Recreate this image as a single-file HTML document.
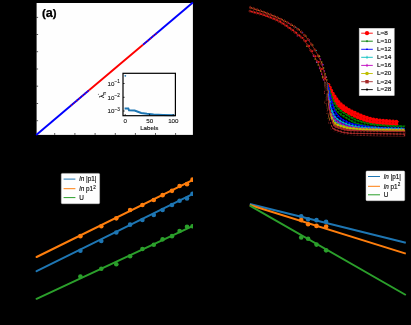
<!DOCTYPE html>
<html><head><meta charset="utf-8"><style>
html,body{margin:0;padding:0;background:#000;width:411px;height:325px;overflow:hidden}
svg{display:block;will-change:transform}
</style></head><body>
<svg width="411" height="325" viewBox="0 0 411 325">
<rect width="411" height="325" fill="#000"/>
<g style="opacity:0.999">
<rect x="36.6" y="3.0" width="156.30" height="131.90" fill="#fff"/>
<line x1="36.2" y1="17.4" x2="38.1" y2="17.4" stroke="#333" stroke-width="0.8"/>
<line x1="36.2" y1="34.5" x2="38.1" y2="34.5" stroke="#333" stroke-width="0.8"/>
<line x1="36.2" y1="51.7" x2="38.1" y2="51.7" stroke="#333" stroke-width="0.8"/>
<line x1="36.2" y1="69.0" x2="38.1" y2="69.0" stroke="#333" stroke-width="0.8"/>
<line x1="36.2" y1="86.2" x2="38.1" y2="86.2" stroke="#333" stroke-width="0.8"/>
<line x1="36.2" y1="103.5" x2="38.1" y2="103.5" stroke="#333" stroke-width="0.8"/>
<line x1="36.2" y1="120.7" x2="38.1" y2="120.7" stroke="#333" stroke-width="0.8"/>
<line x1="54.7" y1="134.9" x2="54.7" y2="133.00" stroke="#333" stroke-width="0.8"/>
<line x1="74.9" y1="134.9" x2="74.9" y2="133.00" stroke="#333" stroke-width="0.8"/>
<line x1="95.1" y1="134.9" x2="95.1" y2="133.00" stroke="#333" stroke-width="0.8"/>
<line x1="115.3" y1="134.9" x2="115.3" y2="133.00" stroke="#333" stroke-width="0.8"/>
<line x1="135.4" y1="134.9" x2="135.4" y2="133.00" stroke="#333" stroke-width="0.8"/>
<line x1="155.5" y1="134.9" x2="155.5" y2="133.00" stroke="#333" stroke-width="0.8"/>
<line x1="175.6" y1="134.9" x2="175.6" y2="133.00" stroke="#333" stroke-width="0.8"/>
<line x1="36.2" y1="134.9" x2="89" y2="90.32" stroke="#0000ff" stroke-width="1.9"/>
<line x1="143" y1="44.73" x2="192.9" y2="2.6" stroke="#0000ff" stroke-width="1.9"/>
<line x1="89" y1="90.32" x2="143" y2="44.73" stroke="#ff0000" stroke-width="1.9"/>
<line x1="71" y1="105.52" x2="89" y2="90.32" stroke="#ff0000" stroke-width="1.7" stroke-dasharray="1.0 2.6" opacity="0.85"/>
<line x1="143" y1="44.73" x2="158" y2="32.07" stroke="#ff0000" stroke-width="1.7" stroke-dasharray="1.0 2.6" stroke-dashoffset="1.5" opacity="0.85"/>
<text x="42.0" y="17.0" font-family="Liberation Sans, sans-serif" font-weight="bold" font-size="11.4" fill="#000" stroke="#000" stroke-width="0.25">(<tspan font-size="12.6">a</tspan>)</text>
<circle cx="125.3" cy="75.8" r="0.9" fill="#1f77b4"/>
<path d="M124.60,108.40 L128.30,108.50 L129.00,110.30 L134.60,110.50 L141.20,113.00 L147.00,113.80 L153.60,114.40 L163.00,114.90 L174.50,115.30" fill="none" stroke="#1f77b4" stroke-width="2.0"/>
<rect x="123.0" y="73.3" width="52.40" height="42.40" fill="none" stroke="#000" stroke-width="1.2"/>
<line x1="123.0" y1="83.5" x2="124.6" y2="83.5" stroke="#000" stroke-width="0.8"/>
<line x1="123.0" y1="97.3" x2="124.6" y2="97.3" stroke="#000" stroke-width="0.8"/>
<line x1="123.0" y1="111.0" x2="124.6" y2="111.0" stroke="#000" stroke-width="0.8"/>
<line x1="125.2" y1="115.7" x2="125.2" y2="114.10000000000001" stroke="#000" stroke-width="0.8"/>
<line x1="149.6" y1="115.7" x2="149.6" y2="114.10000000000001" stroke="#000" stroke-width="0.8"/>
<line x1="173.2" y1="115.7" x2="173.2" y2="114.10000000000001" stroke="#000" stroke-width="0.8"/>
<text x="107.6" y="85.8" font-family="Liberation Sans, sans-serif" font-size="6.2" fill="#111" stroke="#111" stroke-width="0.1">10<tspan dy="-2.4" font-size="4.6">&#8722;1</tspan></text>
<text x="107.6" y="99.6" font-family="Liberation Sans, sans-serif" font-size="6.2" fill="#111" stroke="#111" stroke-width="0.1">10<tspan dy="-2.4" font-size="4.6">&#8722;2</tspan></text>
<text x="107.6" y="113.2" font-family="Liberation Sans, sans-serif" font-size="6.2" fill="#111" stroke="#111" stroke-width="0.1">10<tspan dy="-2.4" font-size="4.6">&#8722;3</tspan></text>
<text x="125.2" y="122.6" font-family="Liberation Sans, sans-serif" font-size="6.2" fill="#111" stroke="#111" stroke-width="0.1" text-anchor="middle">0</text>
<text x="149.8" y="122.6" font-family="Liberation Sans, sans-serif" font-size="6.2" fill="#111" stroke="#111" stroke-width="0.1" text-anchor="middle">50</text>
<text x="173.3" y="122.6" font-family="Liberation Sans, sans-serif" font-size="6.2" fill="#111" stroke="#111" stroke-width="0.1" text-anchor="middle">100</text>
<text x="149.3" y="130.3" font-family="Liberation Sans, sans-serif" font-size="6.2" fill="#111" stroke="#111" stroke-width="0.12" text-anchor="middle">Labels</text>
<text transform="translate(104.0,95.0) rotate(-90)" font-family="Liberation Sans, sans-serif" font-size="7" fill="#111" stroke="#111" stroke-width="0.1" text-anchor="middle">&#955;<tspan font-size="4.6" dy="1.6">n</tspan></text>
<circle cx="98.4" cy="94.3" r="0.55" fill="#555"/>
<path d="M250.00,7.40 C252.10,8.12 258.07,10.02 262.60,11.70 C267.13,13.38 272.48,15.35 277.20,17.50 C281.92,19.65 287.23,22.48 290.90,24.60 C294.57,26.72 296.73,28.20 299.20,30.20 C301.67,32.20 303.70,34.30 305.70,36.60 C307.70,38.90 309.28,41.12 311.20,44.00 C313.12,46.88 315.57,50.90 317.20,53.90 C318.83,56.90 319.95,59.32 321.00,62.00 C322.05,64.68 322.80,67.50 323.50,70.00 C324.20,72.50 324.65,75.00 325.20,77.00 C325.75,79.00 326.53,81.17 326.80,82.00" fill="none" stroke="#b02a1c" stroke-width="0.8"/>
<path d="M249.60,11.00 C251.77,11.60 258.00,13.03 262.60,14.60 C267.20,16.17 272.48,17.97 277.20,20.40 C281.92,22.83 287.38,26.73 290.90,29.20 C294.42,31.67 296.13,33.42 298.30,35.20 C300.47,36.98 301.97,37.57 303.90,39.90 C305.83,42.23 308.13,46.42 309.90,49.20 C311.67,51.98 313.07,54.13 314.50,56.60 C315.93,59.07 317.37,61.60 318.50,64.00 C319.63,66.40 320.52,68.83 321.30,71.00 C322.08,73.17 322.58,75.08 323.20,77.00 C323.82,78.92 324.70,81.58 325.00,82.50" fill="none" stroke="#b82018" stroke-width="0.8"/>
<path d="M249.00,7.50 L250.30,6.30 L251.60,7.50 L250.30,8.70Z" fill="none" stroke="#b83020" stroke-width="0.7"/>
<circle cx="251.80" cy="8.00" r="0.5" fill="#d8a020"/>
<path d="M252.40,8.63 L253.70,7.43 L255.00,8.63 L253.70,9.83Z" fill="none" stroke="#b83020" stroke-width="0.7"/>
<circle cx="255.20" cy="9.13" r="0.5" fill="#d8a020"/>
<path d="M255.80,9.76 L257.10,8.56 L258.40,9.76 L257.10,10.96Z" fill="none" stroke="#b83020" stroke-width="0.7"/>
<circle cx="258.60" cy="10.26" r="0.5" fill="#d8a020"/>
<path d="M259.20,10.94 L260.50,9.74 L261.80,10.94 L260.50,12.14Z" fill="none" stroke="#b83020" stroke-width="0.7"/>
<circle cx="262.00" cy="11.44" r="0.5" fill="#d8a020"/>
<path d="M262.60,12.18 L263.90,10.98 L265.20,12.18 L263.90,13.38Z" fill="none" stroke="#b83020" stroke-width="0.7"/>
<circle cx="265.40" cy="12.68" r="0.5" fill="#d8a020"/>
<path d="M266.00,13.45 L267.30,12.25 L268.60,13.45 L267.30,14.65Z" fill="none" stroke="#b83020" stroke-width="0.7"/>
<circle cx="268.80" cy="13.95" r="0.5" fill="#d8a020"/>
<path d="M269.40,14.77 L270.70,13.57 L272.00,14.77 L270.70,15.97Z" fill="none" stroke="#b83020" stroke-width="0.7"/>
<circle cx="272.20" cy="15.27" r="0.5" fill="#d8a020"/>
<path d="M272.80,16.15 L274.10,14.95 L275.40,16.15 L274.10,17.35Z" fill="none" stroke="#b83020" stroke-width="0.7"/>
<circle cx="275.60" cy="16.65" r="0.5" fill="#d8a020"/>
<path d="M276.20,17.64 L277.50,16.44 L278.80,17.64 L277.50,18.84Z" fill="none" stroke="#b83020" stroke-width="0.7"/>
<circle cx="279.00" cy="18.14" r="0.5" fill="#d8a020"/>
<path d="M279.60,19.26 L280.90,18.06 L282.20,19.26 L280.90,20.46Z" fill="none" stroke="#b83020" stroke-width="0.7"/>
<circle cx="282.40" cy="19.76" r="0.5" fill="#d8a020"/>
<path d="M283.00,20.99 L284.30,19.79 L285.60,20.99 L284.30,22.19Z" fill="none" stroke="#b83020" stroke-width="0.7"/>
<circle cx="285.80" cy="21.49" r="0.5" fill="#d8a020"/>
<path d="M286.40,22.80 L287.70,21.60 L289.00,22.80 L287.70,24.00Z" fill="none" stroke="#b83020" stroke-width="0.7"/>
<circle cx="289.20" cy="23.30" r="0.5" fill="#c020c0"/>
<path d="M289.80,24.72 L291.10,23.52 L292.40,24.72 L291.10,25.92Z" fill="none" stroke="#b83020" stroke-width="0.7"/>
<circle cx="292.60" cy="25.22" r="0.5" fill="#d8c020"/>
<path d="M293.20,26.78 L294.50,25.58 L295.80,26.78 L294.50,27.98Z" fill="none" stroke="#b83020" stroke-width="0.7"/>
<circle cx="296.00" cy="27.28" r="0.5" fill="#20c0c0"/>
<path d="M296.60,29.17 L297.90,27.97 L299.20,29.17 L297.90,30.37Z" fill="none" stroke="#b83020" stroke-width="0.7"/>
<circle cx="299.40" cy="29.67" r="0.5" fill="#d8c020"/>
<path d="M300.00,32.02 L301.30,30.82 L302.60,32.02 L301.30,33.22Z" fill="none" stroke="#b83020" stroke-width="0.7"/>
<circle cx="302.80" cy="32.52" r="0.5" fill="#3040ff"/>
<path d="M303.40,35.47 L304.70,34.27 L306.00,35.47 L304.70,36.67Z" fill="none" stroke="#b83020" stroke-width="0.7"/>
<circle cx="306.20" cy="35.97" r="0.5" fill="#d8c020"/>
<path d="M306.80,39.57 L308.10,38.37 L309.40,39.57 L308.10,40.77Z" fill="none" stroke="#b83020" stroke-width="0.7"/>
<circle cx="309.60" cy="40.07" r="0.5" fill="#c020c0"/>
<path d="M310.20,44.45 L311.50,43.25 L312.80,44.45 L311.50,45.65Z" fill="none" stroke="#b83020" stroke-width="0.7"/>
<circle cx="313.00" cy="44.95" r="0.5" fill="#d8c020"/>
<path d="M313.60,49.89 L314.90,48.69 L316.20,49.89 L314.90,51.09Z" fill="none" stroke="#b83020" stroke-width="0.7"/>
<circle cx="316.40" cy="50.39" r="0.5" fill="#20c0c0"/>
<path d="M317.00,55.99 L318.30,54.79 L319.60,55.99 L318.30,57.19Z" fill="none" stroke="#b83020" stroke-width="0.7"/>
<circle cx="319.80" cy="56.49" r="0.5" fill="#d8c020"/>
<path d="M320.40,63.93 L321.70,62.73 L323.00,63.93 L321.70,65.13Z" fill="none" stroke="#b83020" stroke-width="0.7"/>
<circle cx="323.20" cy="64.43" r="0.5" fill="#3040ff"/>
<path d="M323.80,76.63 L325.10,75.43 L326.40,76.63 L325.10,77.83Z" fill="none" stroke="#b83020" stroke-width="0.7"/>
<circle cx="326.60" cy="77.13" r="0.5" fill="#d8c020"/>
<path d="M248.70,11.11 L250.00,9.91 L251.30,11.11 L250.00,12.31Z" fill="none" stroke="#b02a20" stroke-width="0.7"/>
<circle cx="251.60" cy="11.61" r="0.95" fill="#f01818"/>
<path d="M251.90,11.93 L253.20,10.73 L254.50,11.93 L253.20,13.13Z" fill="none" stroke="#b02a20" stroke-width="0.7"/>
<circle cx="254.80" cy="12.43" r="0.95" fill="#f01818"/>
<path d="M255.10,12.76 L256.40,11.56 L257.70,12.76 L256.40,13.96Z" fill="none" stroke="#b02a20" stroke-width="0.7"/>
<circle cx="258.00" cy="13.26" r="0.95" fill="#f01818"/>
<path d="M258.30,13.66 L259.60,12.46 L260.90,13.66 L259.60,14.86Z" fill="none" stroke="#b02a20" stroke-width="0.7"/>
<circle cx="261.20" cy="14.16" r="0.95" fill="#f01818"/>
<path d="M261.50,14.67 L262.80,13.47 L264.10,14.67 L262.80,15.87Z" fill="none" stroke="#b02a20" stroke-width="0.7"/>
<circle cx="264.40" cy="15.17" r="0.95" fill="#f01818"/>
<path d="M264.70,15.77 L266.00,14.57 L267.30,15.77 L266.00,16.97Z" fill="none" stroke="#b02a20" stroke-width="0.7"/>
<circle cx="267.60" cy="16.27" r="0.95" fill="#f01818"/>
<path d="M267.90,16.93 L269.20,15.73 L270.50,16.93 L269.20,18.13Z" fill="none" stroke="#b02a20" stroke-width="0.7"/>
<circle cx="270.80" cy="17.43" r="0.95" fill="#f01818"/>
<path d="M271.10,18.19 L272.40,16.99 L273.70,18.19 L272.40,19.39Z" fill="none" stroke="#b02a20" stroke-width="0.7"/>
<circle cx="274.00" cy="18.69" r="0.95" fill="#f01818"/>
<path d="M274.30,19.61 L275.60,18.41 L276.90,19.61 L275.60,20.81Z" fill="none" stroke="#b02a20" stroke-width="0.7"/>
<circle cx="277.20" cy="20.11" r="0.95" fill="#f01818"/>
<path d="M277.50,21.26 L278.80,20.06 L280.10,21.26 L278.80,22.46Z" fill="none" stroke="#b02a20" stroke-width="0.7"/>
<circle cx="280.40" cy="21.76" r="0.95" fill="#f01818"/>
<path d="M280.70,23.17 L282.00,21.97 L283.30,23.17 L282.00,24.37Z" fill="none" stroke="#b02a20" stroke-width="0.7"/>
<circle cx="283.60" cy="23.67" r="0.95" fill="#f01818"/>
<path d="M283.90,25.25 L285.20,24.05 L286.50,25.25 L285.20,26.45Z" fill="none" stroke="#b02a20" stroke-width="0.7"/>
<circle cx="286.80" cy="25.75" r="0.95" fill="#f01818"/>
<path d="M287.10,27.45 L288.40,26.25 L289.70,27.45 L288.40,28.65Z" fill="none" stroke="#b02a20" stroke-width="0.7"/>
<circle cx="290.00" cy="27.95" r="0.95" fill="#f01818"/>
<path d="M290.30,29.70 L291.60,28.50 L292.90,29.70 L291.60,30.90Z" fill="none" stroke="#b02a20" stroke-width="0.7"/>
<circle cx="293.20" cy="30.20" r="0.95" fill="#f01818"/>
<path d="M293.50,32.20 L294.80,31.00 L296.10,32.20 L294.80,33.40Z" fill="none" stroke="#b02a20" stroke-width="0.7"/>
<circle cx="296.40" cy="32.70" r="0.95" fill="#f01818"/>
<path d="M296.70,34.95 L298.00,33.75 L299.30,34.95 L298.00,36.15Z" fill="none" stroke="#b02a20" stroke-width="0.7"/>
<circle cx="299.60" cy="35.45" r="0.95" fill="#f01818"/>
<circle cx="297.20" cy="35.95" r="0.5" fill="#c020c0"/>
<path d="M299.90,37.35 L301.20,36.15 L302.50,37.35 L301.20,38.55Z" fill="none" stroke="#b02a20" stroke-width="0.7"/>
<circle cx="302.80" cy="37.85" r="0.95" fill="#f01818"/>
<path d="M303.10,40.53 L304.40,39.33 L305.70,40.53 L304.40,41.73Z" fill="none" stroke="#b02a20" stroke-width="0.7"/>
<circle cx="306.00" cy="41.03" r="0.95" fill="#f01818"/>
<path d="M306.30,45.43 L307.60,44.23 L308.90,45.43 L307.60,46.63Z" fill="none" stroke="#b02a20" stroke-width="0.7"/>
<circle cx="309.20" cy="45.93" r="0.95" fill="#f01818"/>
<circle cx="306.80" cy="46.43" r="0.5" fill="#d8c020"/>
<path d="M309.50,50.61 L310.80,49.41 L312.10,50.61 L310.80,51.81Z" fill="none" stroke="#b02a20" stroke-width="0.7"/>
<circle cx="312.40" cy="51.11" r="0.95" fill="#f01818"/>
<path d="M312.70,55.75 L314.00,54.55 L315.30,55.75 L314.00,56.95Z" fill="none" stroke="#b02a20" stroke-width="0.7"/>
<circle cx="315.60" cy="56.25" r="0.95" fill="#f01818"/>
<path d="M315.90,61.42 L317.20,60.22 L318.50,61.42 L317.20,62.62Z" fill="none" stroke="#b02a20" stroke-width="0.7"/>
<circle cx="318.80" cy="61.92" r="0.95" fill="#f01818"/>
<circle cx="316.40" cy="62.42" r="0.5" fill="#20c0c0"/>
<path d="M319.10,68.55 L320.40,67.35 L321.70,68.55 L320.40,69.75Z" fill="none" stroke="#b02a20" stroke-width="0.7"/>
<circle cx="322.00" cy="69.05" r="0.95" fill="#f01818"/>
<path d="M322.30,78.23 L323.60,77.03 L324.90,78.23 L323.60,79.43Z" fill="none" stroke="#b02a20" stroke-width="0.7"/>
<circle cx="325.20" cy="78.73" r="0.95" fill="#f01818"/>
<rect x="318.56" y="55.32" width="1.0" height="1.2" fill="#d8c020"/>
<rect x="312.91" y="55.51" width="1.0" height="1.2" fill="#c020c0"/>
<rect x="320.10" y="58.51" width="1.0" height="1.2" fill="#c020c0"/>
<rect x="314.62" y="58.48" width="1.0" height="1.2" fill="#d8c020"/>
<rect x="321.30" y="61.40" width="1.0" height="1.2" fill="#d8c020"/>
<rect x="316.24" y="61.46" width="1.0" height="1.2" fill="#c020c0"/>
<rect x="322.35" y="64.38" width="1.0" height="1.2" fill="#c020c0"/>
<rect x="317.64" y="64.36" width="1.0" height="1.2" fill="#d8c020"/>
<rect x="323.22" y="67.34" width="1.0" height="1.2" fill="#d8c020"/>
<rect x="318.91" y="67.46" width="1.0" height="1.2" fill="#c020c0"/>
<rect x="324.07" y="70.40" width="1.0" height="1.2" fill="#c020c0"/>
<rect x="320.00" y="70.40" width="1.0" height="1.2" fill="#d8c020"/>
<rect x="324.76" y="73.32" width="1.0" height="1.2" fill="#d8c020"/>
<rect x="321.01" y="73.49" width="1.0" height="1.2" fill="#c020c0"/>
<rect x="325.50" y="76.40" width="1.0" height="1.2" fill="#c020c0"/>
<rect x="321.90" y="76.40" width="1.0" height="1.2" fill="#d8c020"/>
<rect x="326.41" y="79.34" width="1.0" height="1.2" fill="#d8c020"/>
<rect x="322.85" y="79.32" width="1.0" height="1.2" fill="#c020c0"/>
<path d="M326.80,82.00 C327.15,82.60 327.90,83.67 328.90,85.60 C329.90,87.53 331.02,90.68 332.80,93.60 C334.58,96.52 337.13,100.52 339.60,103.10 C342.07,105.68 344.77,107.35 347.60,109.10 C350.43,110.85 352.77,111.97 356.60,113.60 C360.43,115.23 365.77,117.68 370.60,118.90 C375.43,120.12 380.88,120.42 385.60,120.90 C390.32,121.38 396.68,121.65 398.90,121.80" fill="none" stroke="#ff0000" stroke-width="1.0"/>
<circle cx="328.49" cy="84.83" r="1.95" fill="#ff0000"/>
<circle cx="329.92" cy="87.80" r="1.95" fill="#ff0000"/>
<circle cx="331.29" cy="90.81" r="1.95" fill="#ff0000"/>
<circle cx="332.87" cy="93.71" r="1.95" fill="#ff0000"/>
<circle cx="334.62" cy="96.50" r="1.95" fill="#ff0000"/>
<circle cx="336.47" cy="99.23" r="1.95" fill="#ff0000"/>
<circle cx="338.48" cy="101.85" r="1.95" fill="#ff0000"/>
<circle cx="340.76" cy="104.23" r="1.95" fill="#ff0000"/>
<circle cx="343.32" cy="106.31" r="1.95" fill="#ff0000"/>
<circle cx="346.06" cy="108.14" r="1.95" fill="#ff0000"/>
<circle cx="348.88" cy="109.87" r="1.95" fill="#ff0000"/>
<circle cx="351.79" cy="111.42" r="1.95" fill="#ff0000"/>
<circle cx="354.78" cy="112.81" r="1.95" fill="#ff0000"/>
<circle cx="357.81" cy="114.12" r="1.95" fill="#ff0000"/>
<circle cx="360.84" cy="115.42" r="1.95" fill="#ff0000"/>
<circle cx="363.90" cy="116.67" r="1.95" fill="#ff0000"/>
<circle cx="366.99" cy="117.82" r="1.95" fill="#ff0000"/>
<circle cx="370.15" cy="118.78" r="1.95" fill="#ff0000"/>
<circle cx="373.37" cy="119.49" r="1.95" fill="#ff0000"/>
<circle cx="376.63" cy="119.99" r="1.95" fill="#ff0000"/>
<circle cx="379.91" cy="120.36" r="1.95" fill="#ff0000"/>
<circle cx="383.19" cy="120.67" r="1.95" fill="#ff0000"/>
<circle cx="386.48" cy="120.99" r="1.95" fill="#ff0000"/>
<circle cx="389.77" cy="121.25" r="1.95" fill="#ff0000"/>
<circle cx="393.06" cy="121.47" r="1.95" fill="#ff0000"/>
<circle cx="396.36" cy="121.65" r="1.95" fill="#ff0000"/>
<path d="M325.00,82.50 C325.45,83.45 326.60,85.92 327.70,88.20 C328.80,90.48 329.82,93.28 331.60,96.20 C333.38,99.12 335.93,103.12 338.40,105.70 C340.87,108.28 343.57,109.95 346.40,111.70 C349.23,113.45 351.57,114.57 355.40,116.20 C359.23,117.83 364.57,120.28 369.40,121.50 C374.23,122.72 379.68,123.02 384.40,123.50 C389.12,123.98 395.48,124.25 397.70,124.40" fill="none" stroke="#ff0000" stroke-width="1.0"/>
<circle cx="326.41" cy="85.49" r="1.95" fill="#ff0000"/>
<circle cx="327.83" cy="88.46" r="1.95" fill="#ff0000"/>
<circle cx="329.17" cy="91.48" r="1.95" fill="#ff0000"/>
<circle cx="330.61" cy="94.45" r="1.95" fill="#ff0000"/>
<circle cx="332.28" cy="97.29" r="1.95" fill="#ff0000"/>
<circle cx="334.06" cy="100.07" r="1.95" fill="#ff0000"/>
<circle cx="335.96" cy="102.77" r="1.95" fill="#ff0000"/>
<circle cx="338.05" cy="105.32" r="1.95" fill="#ff0000"/>
<circle cx="340.43" cy="107.60" r="1.95" fill="#ff0000"/>
<circle cx="343.07" cy="109.58" r="1.95" fill="#ff0000"/>
<circle cx="345.85" cy="111.36" r="1.95" fill="#ff0000"/>
<circle cx="348.69" cy="113.04" r="1.95" fill="#ff0000"/>
<circle cx="351.63" cy="114.53" r="1.95" fill="#ff0000"/>
<circle cx="354.65" cy="115.88" r="1.95" fill="#ff0000"/>
<circle cx="357.68" cy="117.18" r="1.95" fill="#ff0000"/>
<circle cx="360.71" cy="118.47" r="1.95" fill="#ff0000"/>
<circle cx="363.78" cy="119.69" r="1.95" fill="#ff0000"/>
<circle cx="366.89" cy="120.78" r="1.95" fill="#ff0000"/>
<circle cx="370.07" cy="121.66" r="1.95" fill="#ff0000"/>
<circle cx="373.31" cy="122.29" r="1.95" fill="#ff0000"/>
<circle cx="376.58" cy="122.73" r="1.95" fill="#ff0000"/>
<circle cx="379.87" cy="123.07" r="1.95" fill="#ff0000"/>
<circle cx="383.15" cy="123.38" r="1.95" fill="#ff0000"/>
<circle cx="386.44" cy="123.69" r="1.95" fill="#ff0000"/>
<circle cx="389.73" cy="123.93" r="1.95" fill="#ff0000"/>
<circle cx="393.02" cy="124.14" r="1.95" fill="#ff0000"/>
<circle cx="396.32" cy="124.32" r="1.95" fill="#ff0000"/>
<path d="M326.80,82.00 C327.03,82.77 327.57,84.67 328.20,86.60 C328.83,88.53 329.50,90.77 330.60,93.60 C331.70,96.43 333.30,100.85 334.80,103.60 C336.30,106.35 337.30,108.02 339.60,110.10 C341.90,112.18 345.77,114.38 348.60,116.10 C351.43,117.82 352.93,119.05 356.60,120.40 C360.27,121.75 365.77,123.30 370.60,124.20 C375.43,125.10 380.05,125.40 385.60,125.80 C391.15,126.20 400.85,126.47 403.90,126.60" fill="none" stroke="#008000" stroke-width="1.0"/>
<path d="M326.14,83.96 h3.2 l-1.6,2.6z" fill="#008000"/>
<path d="M327.15,87.10 h3.2 l-1.6,2.6z" fill="#008000"/>
<path d="M328.20,90.23 h3.2 l-1.6,2.6z" fill="#008000"/>
<path d="M329.36,93.32 h3.2 l-1.6,2.6z" fill="#008000"/>
<path d="M330.54,96.40 h3.2 l-1.6,2.6z" fill="#008000"/>
<path d="M331.79,99.46 h3.2 l-1.6,2.6z" fill="#008000"/>
<path d="M333.22,102.43 h3.2 l-1.6,2.6z" fill="#008000"/>
<path d="M334.88,105.28 h3.2 l-1.6,2.6z" fill="#008000"/>
<path d="M336.93,107.86 h3.2 l-1.6,2.6z" fill="#008000"/>
<path d="M339.40,110.05 h3.2 l-1.6,2.6z" fill="#008000"/>
<path d="M342.11,111.92 h3.2 l-1.6,2.6z" fill="#008000"/>
<path d="M344.92,113.65 h3.2 l-1.6,2.6z" fill="#008000"/>
<path d="M347.75,115.36 h3.2 l-1.6,2.6z" fill="#008000"/>
<path d="M350.55,117.10 h3.2 l-1.6,2.6z" fill="#008000"/>
<path d="M353.49,118.60 h3.2 l-1.6,2.6z" fill="#008000"/>
<path d="M356.58,119.75 h3.2 l-1.6,2.6z" fill="#008000"/>
<path d="M359.72,120.75 h3.2 l-1.6,2.6z" fill="#008000"/>
<path d="M362.90,121.63 h3.2 l-1.6,2.6z" fill="#008000"/>
<path d="M366.11,122.40 h3.2 l-1.6,2.6z" fill="#008000"/>
<path d="M369.34,123.06 h3.2 l-1.6,2.6z" fill="#008000"/>
<path d="M372.60,123.57 h3.2 l-1.6,2.6z" fill="#008000"/>
<path d="M375.88,123.95 h3.2 l-1.6,2.6z" fill="#008000"/>
<path d="M379.17,124.24 h3.2 l-1.6,2.6z" fill="#008000"/>
<path d="M382.46,124.49 h3.2 l-1.6,2.6z" fill="#008000"/>
<path d="M385.75,124.71 h3.2 l-1.6,2.6z" fill="#008000"/>
<path d="M389.05,124.89 h3.2 l-1.6,2.6z" fill="#008000"/>
<path d="M392.34,125.03 h3.2 l-1.6,2.6z" fill="#008000"/>
<path d="M395.64,125.16 h3.2 l-1.6,2.6z" fill="#008000"/>
<path d="M398.94,125.28 h3.2 l-1.6,2.6z" fill="#008000"/>
<path d="M402.24,125.40 h3.2 l-1.6,2.6z" fill="#008000"/>
<path d="M325.00,82.50 C325.33,83.62 326.27,86.92 327.00,89.20 C327.73,91.48 328.30,93.37 329.40,96.20 C330.50,99.03 332.10,103.45 333.60,106.20 C335.10,108.95 336.10,110.62 338.40,112.70 C340.70,114.78 344.57,116.98 347.40,118.70 C350.23,120.42 351.73,121.65 355.40,123.00 C359.07,124.35 364.57,125.90 369.40,126.80 C374.23,127.70 378.85,128.00 384.40,128.40 C389.95,128.80 399.65,129.07 402.70,129.20" fill="none" stroke="#008000" stroke-width="1.0"/>
<path d="M324.32,84.47 h3.2 l-1.6,2.6z" fill="#008000"/>
<path d="M325.28,87.63 h3.2 l-1.6,2.6z" fill="#008000"/>
<path d="M326.29,90.77 h3.2 l-1.6,2.6z" fill="#008000"/>
<path d="M327.38,93.88 h3.2 l-1.6,2.6z" fill="#008000"/>
<path d="M328.55,96.97 h3.2 l-1.6,2.6z" fill="#008000"/>
<path d="M329.75,100.04 h3.2 l-1.6,2.6z" fill="#008000"/>
<path d="M331.05,103.08 h3.2 l-1.6,2.6z" fill="#008000"/>
<path d="M332.56,106.01 h3.2 l-1.6,2.6z" fill="#008000"/>
<path d="M334.32,108.80 h3.2 l-1.6,2.6z" fill="#008000"/>
<path d="M336.52,111.25 h3.2 l-1.6,2.6z" fill="#008000"/>
<path d="M339.10,113.30 h3.2 l-1.6,2.6z" fill="#008000"/>
<path d="M341.86,115.11 h3.2 l-1.6,2.6z" fill="#008000"/>
<path d="M344.68,116.83 h3.2 l-1.6,2.6z" fill="#008000"/>
<path d="M347.49,118.55 h3.2 l-1.6,2.6z" fill="#008000"/>
<path d="M350.32,120.25 h3.2 l-1.6,2.6z" fill="#008000"/>
<path d="M353.32,121.62 h3.2 l-1.6,2.6z" fill="#008000"/>
<path d="M356.44,122.70 h3.2 l-1.6,2.6z" fill="#008000"/>
<path d="M359.60,123.65 h3.2 l-1.6,2.6z" fill="#008000"/>
<path d="M362.79,124.50 h3.2 l-1.6,2.6z" fill="#008000"/>
<path d="M366.00,125.24 h3.2 l-1.6,2.6z" fill="#008000"/>
<path d="M369.24,125.85 h3.2 l-1.6,2.6z" fill="#008000"/>
<path d="M372.51,126.31 h3.2 l-1.6,2.6z" fill="#008000"/>
<path d="M375.79,126.66 h3.2 l-1.6,2.6z" fill="#008000"/>
<path d="M379.08,126.93 h3.2 l-1.6,2.6z" fill="#008000"/>
<path d="M382.37,127.17 h3.2 l-1.6,2.6z" fill="#008000"/>
<path d="M385.67,127.38 h3.2 l-1.6,2.6z" fill="#008000"/>
<path d="M388.96,127.54 h3.2 l-1.6,2.6z" fill="#008000"/>
<path d="M392.26,127.68 h3.2 l-1.6,2.6z" fill="#008000"/>
<path d="M395.56,127.80 h3.2 l-1.6,2.6z" fill="#008000"/>
<path d="M398.86,127.91 h3.2 l-1.6,2.6z" fill="#008000"/>
<path d="M326.80,82.00 C327.02,82.77 327.63,84.67 328.10,86.60 C328.57,88.53 328.90,90.77 329.60,93.60 C330.30,96.43 331.38,100.60 332.30,103.60 C333.22,106.60 333.72,109.18 335.10,111.60 C336.48,114.02 338.35,116.30 340.60,118.10 C342.85,119.90 345.93,121.28 348.60,122.40 C351.27,123.52 352.93,124.07 356.60,124.80 C360.27,125.53 365.77,126.30 370.60,126.80 C375.43,127.30 379.88,127.53 385.60,127.80 C391.32,128.07 401.68,128.30 404.90,128.40" fill="none" stroke="#0000ff" stroke-width="1.0"/>
<path d="M326.13,86.37 h3.2 l-1.6,-2.6z" fill="#0000ff"/>
<path d="M326.89,89.58 h3.2 l-1.6,-2.6z" fill="#0000ff"/>
<path d="M327.54,92.81 h3.2 l-1.6,-2.6z" fill="#0000ff"/>
<path d="M328.31,96.02 h3.2 l-1.6,-2.6z" fill="#0000ff"/>
<path d="M329.13,99.22 h3.2 l-1.6,-2.6z" fill="#0000ff"/>
<path d="M330.00,102.40 h3.2 l-1.6,-2.6z" fill="#0000ff"/>
<path d="M330.93,105.57 h3.2 l-1.6,-2.6z" fill="#0000ff"/>
<path d="M331.84,108.74 h3.2 l-1.6,-2.6z" fill="#0000ff"/>
<path d="M332.99,111.83 h3.2 l-1.6,-2.6z" fill="#0000ff"/>
<path d="M334.68,114.66 h3.2 l-1.6,-2.6z" fill="#0000ff"/>
<path d="M336.76,117.22 h3.2 l-1.6,-2.6z" fill="#0000ff"/>
<path d="M339.19,119.45 h3.2 l-1.6,-2.6z" fill="#0000ff"/>
<path d="M341.96,121.23 h3.2 l-1.6,-2.6z" fill="#0000ff"/>
<path d="M344.91,122.70 h3.2 l-1.6,-2.6z" fill="#0000ff"/>
<path d="M347.95,123.99 h3.2 l-1.6,-2.6z" fill="#0000ff"/>
<path d="M351.07,125.07 h3.2 l-1.6,-2.6z" fill="#0000ff"/>
<path d="M354.27,125.85 h3.2 l-1.6,-2.6z" fill="#0000ff"/>
<path d="M357.52,126.46 h3.2 l-1.6,-2.6z" fill="#0000ff"/>
<path d="M360.78,126.97 h3.2 l-1.6,-2.6z" fill="#0000ff"/>
<path d="M364.04,127.42 h3.2 l-1.6,-2.6z" fill="#0000ff"/>
<path d="M367.32,127.82 h3.2 l-1.6,-2.6z" fill="#0000ff"/>
<path d="M370.60,128.16 h3.2 l-1.6,-2.6z" fill="#0000ff"/>
<path d="M373.89,128.43 h3.2 l-1.6,-2.6z" fill="#0000ff"/>
<path d="M377.18,128.65 h3.2 l-1.6,-2.6z" fill="#0000ff"/>
<path d="M380.48,128.83 h3.2 l-1.6,-2.6z" fill="#0000ff"/>
<path d="M383.78,128.99 h3.2 l-1.6,-2.6z" fill="#0000ff"/>
<path d="M387.07,129.13 h3.2 l-1.6,-2.6z" fill="#0000ff"/>
<path d="M390.37,129.24 h3.2 l-1.6,-2.6z" fill="#0000ff"/>
<path d="M393.67,129.34 h3.2 l-1.6,-2.6z" fill="#0000ff"/>
<path d="M396.97,129.43 h3.2 l-1.6,-2.6z" fill="#0000ff"/>
<path d="M400.27,129.52 h3.2 l-1.6,-2.6z" fill="#0000ff"/>
<path d="M325.00,82.50 C325.32,83.62 326.33,86.92 326.90,89.20 C327.47,91.48 327.70,93.37 328.40,96.20 C329.10,99.03 330.18,103.20 331.10,106.20 C332.02,109.20 332.52,111.78 333.90,114.20 C335.28,116.62 337.15,118.90 339.40,120.70 C341.65,122.50 344.73,123.88 347.40,125.00 C350.07,126.12 351.73,126.67 355.40,127.40 C359.07,128.13 364.57,128.90 369.40,129.40 C374.23,129.90 378.68,130.13 384.40,130.40 C390.12,130.67 400.48,130.90 403.70,131.00" fill="none" stroke="#0000ff" stroke-width="1.0"/>
<path d="M324.33,86.87 h3.2 l-1.6,-2.6z" fill="#0000ff"/>
<path d="M325.21,90.05 h3.2 l-1.6,-2.6z" fill="#0000ff"/>
<path d="M325.92,93.27 h3.2 l-1.6,-2.6z" fill="#0000ff"/>
<path d="M326.59,96.50 h3.2 l-1.6,-2.6z" fill="#0000ff"/>
<path d="M327.38,99.70 h3.2 l-1.6,-2.6z" fill="#0000ff"/>
<path d="M328.22,102.90 h3.2 l-1.6,-2.6z" fill="#0000ff"/>
<path d="M329.11,106.07 h3.2 l-1.6,-2.6z" fill="#0000ff"/>
<path d="M330.04,109.24 h3.2 l-1.6,-2.6z" fill="#0000ff"/>
<path d="M330.98,112.40 h3.2 l-1.6,-2.6z" fill="#0000ff"/>
<path d="M332.31,115.42 h3.2 l-1.6,-2.6z" fill="#0000ff"/>
<path d="M334.14,118.16 h3.2 l-1.6,-2.6z" fill="#0000ff"/>
<path d="M336.34,120.61 h3.2 l-1.6,-2.6z" fill="#0000ff"/>
<path d="M338.89,122.70 h3.2 l-1.6,-2.6z" fill="#0000ff"/>
<path d="M341.74,124.36 h3.2 l-1.6,-2.6z" fill="#0000ff"/>
<path d="M344.74,125.75 h3.2 l-1.6,-2.6z" fill="#0000ff"/>
<path d="M347.79,126.99 h3.2 l-1.6,-2.6z" fill="#0000ff"/>
<path d="M350.94,127.97 h3.2 l-1.6,-2.6z" fill="#0000ff"/>
<path d="M354.17,128.67 h3.2 l-1.6,-2.6z" fill="#0000ff"/>
<path d="M357.42,129.24 h3.2 l-1.6,-2.6z" fill="#0000ff"/>
<path d="M360.68,129.73 h3.2 l-1.6,-2.6z" fill="#0000ff"/>
<path d="M363.95,130.16 h3.2 l-1.6,-2.6z" fill="#0000ff"/>
<path d="M367.23,130.54 h3.2 l-1.6,-2.6z" fill="#0000ff"/>
<path d="M370.51,130.86 h3.2 l-1.6,-2.6z" fill="#0000ff"/>
<path d="M373.80,131.11 h3.2 l-1.6,-2.6z" fill="#0000ff"/>
<path d="M377.10,131.31 h3.2 l-1.6,-2.6z" fill="#0000ff"/>
<path d="M380.39,131.49 h3.2 l-1.6,-2.6z" fill="#0000ff"/>
<path d="M383.69,131.64 h3.2 l-1.6,-2.6z" fill="#0000ff"/>
<path d="M386.99,131.77 h3.2 l-1.6,-2.6z" fill="#0000ff"/>
<path d="M390.29,131.87 h3.2 l-1.6,-2.6z" fill="#0000ff"/>
<path d="M393.58,131.97 h3.2 l-1.6,-2.6z" fill="#0000ff"/>
<path d="M396.88,132.06 h3.2 l-1.6,-2.6z" fill="#0000ff"/>
<path d="M400.18,132.15 h3.2 l-1.6,-2.6z" fill="#0000ff"/>
<path d="M326.80,82.00 C326.93,83.10 327.22,85.83 327.60,88.60 C327.98,91.37 328.52,95.27 329.10,98.60 C329.68,101.93 330.02,105.40 331.10,108.60 C332.18,111.80 333.18,115.30 335.60,117.80 C338.02,120.30 342.10,122.13 345.60,123.60 C349.10,125.07 352.43,125.87 356.60,126.60 C360.77,127.33 362.60,127.62 370.60,128.00 C378.60,128.38 398.93,128.75 404.60,128.90" fill="none" stroke="#00bfbf" stroke-width="1.0"/>
<path d="M328.05,90.52 v2.6 M326.75,91.82 h2.6" stroke="#00bfbf" stroke-width="0.9"/>
<path d="M329.58,100.30 v2.6 M328.28,101.60 h2.6" stroke="#00bfbf" stroke-width="0.9"/>
<path d="M331.97,109.89 v2.6 M330.67,111.19 h2.6" stroke="#00bfbf" stroke-width="0.9"/>
<path d="M333.21,112.94 v2.6 M331.91,114.24 h2.6" stroke="#00bfbf" stroke-width="0.9"/>
<path d="M334.94,115.75 v2.6 M333.64,117.05 h2.6" stroke="#00bfbf" stroke-width="0.9"/>
<path d="M337.34,118.00 v2.6 M336.04,119.30 h2.6" stroke="#00bfbf" stroke-width="0.9"/>
<path d="M340.13,119.75 v2.6 M338.83,121.05 h2.6" stroke="#00bfbf" stroke-width="0.9"/>
<path d="M343.09,121.21 v2.6 M341.79,122.51 h2.6" stroke="#00bfbf" stroke-width="0.9"/>
<path d="M346.12,122.51 v2.6 M344.82,123.81 h2.6" stroke="#00bfbf" stroke-width="0.9"/>
<path d="M349.23,123.61 v2.6 M347.93,124.91 h2.6" stroke="#00bfbf" stroke-width="0.9"/>
<path d="M352.42,124.46 v2.6 M351.12,125.76 h2.6" stroke="#00bfbf" stroke-width="0.9"/>
<path d="M355.65,125.13 v2.6 M354.35,126.43 h2.6" stroke="#00bfbf" stroke-width="0.9"/>
<path d="M358.90,125.69 v2.6 M357.60,126.99 h2.6" stroke="#00bfbf" stroke-width="0.9"/>
<path d="M362.17,126.13 v2.6 M360.87,127.43 h2.6" stroke="#00bfbf" stroke-width="0.9"/>
<path d="M365.46,126.41 v2.6 M364.16,127.71 h2.6" stroke="#00bfbf" stroke-width="0.9"/>
<path d="M368.75,126.61 v2.6 M367.45,127.91 h2.6" stroke="#00bfbf" stroke-width="0.9"/>
<path d="M372.05,126.76 v2.6 M370.75,128.06 h2.6" stroke="#00bfbf" stroke-width="0.9"/>
<path d="M375.35,126.88 v2.6 M374.05,128.18 h2.6" stroke="#00bfbf" stroke-width="0.9"/>
<path d="M378.64,126.99 v2.6 M377.34,128.29 h2.6" stroke="#00bfbf" stroke-width="0.9"/>
<path d="M381.94,127.08 v2.6 M380.64,128.38 h2.6" stroke="#00bfbf" stroke-width="0.9"/>
<path d="M385.24,127.16 v2.6 M383.94,128.46 h2.6" stroke="#00bfbf" stroke-width="0.9"/>
<path d="M388.54,127.24 v2.6 M387.24,128.54 h2.6" stroke="#00bfbf" stroke-width="0.9"/>
<path d="M391.84,127.31 v2.6 M390.54,128.61 h2.6" stroke="#00bfbf" stroke-width="0.9"/>
<path d="M395.14,127.39 v2.6 M393.84,128.69 h2.6" stroke="#00bfbf" stroke-width="0.9"/>
<path d="M398.44,127.46 v2.6 M397.14,128.76 h2.6" stroke="#00bfbf" stroke-width="0.9"/>
<path d="M401.74,127.53 v2.6 M400.44,128.83 h2.6" stroke="#00bfbf" stroke-width="0.9"/>
<path d="M325.00,82.50 C325.23,83.95 325.92,88.08 326.40,91.20 C326.88,94.32 327.32,97.87 327.90,101.20 C328.48,104.53 328.82,108.00 329.90,111.20 C330.98,114.40 331.98,117.90 334.40,120.40 C336.82,122.90 340.90,124.73 344.40,126.20 C347.90,127.67 351.23,128.47 355.40,129.20 C359.57,129.93 361.40,130.22 369.40,130.60 C377.40,130.98 397.73,131.35 403.40,131.50" fill="none" stroke="#00bfbf" stroke-width="1.0"/>
<path d="M326.56,90.98 v2.6 M325.26,92.28 h2.6" stroke="#00bfbf" stroke-width="0.9"/>
<path d="M328.05,100.76 v2.6 M326.75,102.06 h2.6" stroke="#00bfbf" stroke-width="0.9"/>
<path d="M330.08,110.44 v2.6 M328.78,111.74 h2.6" stroke="#00bfbf" stroke-width="0.9"/>
<path d="M331.16,113.55 v2.6 M329.86,114.85 h2.6" stroke="#00bfbf" stroke-width="0.9"/>
<path d="M332.53,116.55 v2.6 M331.23,117.85 h2.6" stroke="#00bfbf" stroke-width="0.9"/>
<path d="M334.49,119.19 v2.6 M333.19,120.49 h2.6" stroke="#00bfbf" stroke-width="0.9"/>
<path d="M337.07,121.25 v2.6 M335.77,122.55 h2.6" stroke="#00bfbf" stroke-width="0.9"/>
<path d="M339.93,122.88 v2.6 M338.63,124.18 h2.6" stroke="#00bfbf" stroke-width="0.9"/>
<path d="M342.93,124.27 v2.6 M341.63,125.57 h2.6" stroke="#00bfbf" stroke-width="0.9"/>
<path d="M345.98,125.52 v2.6 M344.68,126.82 h2.6" stroke="#00bfbf" stroke-width="0.9"/>
<path d="M349.12,126.53 v2.6 M347.82,127.83 h2.6" stroke="#00bfbf" stroke-width="0.9"/>
<path d="M352.33,127.31 v2.6 M351.03,128.61 h2.6" stroke="#00bfbf" stroke-width="0.9"/>
<path d="M355.57,127.93 v2.6 M354.27,129.23 h2.6" stroke="#00bfbf" stroke-width="0.9"/>
<path d="M358.82,128.46 v2.6 M357.52,129.76 h2.6" stroke="#00bfbf" stroke-width="0.9"/>
<path d="M362.10,128.84 v2.6 M360.80,130.14 h2.6" stroke="#00bfbf" stroke-width="0.9"/>
<path d="M365.39,129.08 v2.6 M364.09,130.38 h2.6" stroke="#00bfbf" stroke-width="0.9"/>
<path d="M368.69,129.27 v2.6 M367.39,130.57 h2.6" stroke="#00bfbf" stroke-width="0.9"/>
<path d="M371.98,129.41 v2.6 M370.68,130.71 h2.6" stroke="#00bfbf" stroke-width="0.9"/>
<path d="M375.28,129.52 v2.6 M373.98,130.82 h2.6" stroke="#00bfbf" stroke-width="0.9"/>
<path d="M378.58,129.62 v2.6 M377.28,130.92 h2.6" stroke="#00bfbf" stroke-width="0.9"/>
<path d="M381.88,129.71 v2.6 M380.58,131.01 h2.6" stroke="#00bfbf" stroke-width="0.9"/>
<path d="M385.18,129.79 v2.6 M383.88,131.09 h2.6" stroke="#00bfbf" stroke-width="0.9"/>
<path d="M388.48,129.87 v2.6 M387.18,131.17 h2.6" stroke="#00bfbf" stroke-width="0.9"/>
<path d="M391.78,129.94 v2.6 M390.48,131.24 h2.6" stroke="#00bfbf" stroke-width="0.9"/>
<path d="M395.08,130.01 v2.6 M393.78,131.31 h2.6" stroke="#00bfbf" stroke-width="0.9"/>
<path d="M398.38,130.08 v2.6 M397.08,131.38 h2.6" stroke="#00bfbf" stroke-width="0.9"/>
<path d="M401.67,130.16 v2.6 M400.37,131.46 h2.6" stroke="#00bfbf" stroke-width="0.9"/>
<path d="M326.80,82.00 C326.90,83.43 327.10,87.50 327.40,90.60 C327.70,93.70 328.15,97.27 328.60,100.60 C329.05,103.93 328.93,107.35 330.10,110.60 C331.27,113.85 333.02,117.60 335.60,120.10 C338.18,122.60 342.10,124.30 345.60,125.60 C349.10,126.90 352.43,127.33 356.60,127.90 C360.77,128.47 362.60,128.70 370.60,129.00 C378.60,129.30 398.93,129.58 404.60,129.70" fill="none" stroke="#bf00bf" stroke-width="1.0"/>
<path d="M327.53,90.47 v2.8" stroke="#bf00bf" stroke-width="1.0"/>
<path d="M328.73,100.30 v2.8" stroke="#bf00bf" stroke-width="1.0"/>
<path d="M330.40,110.01 v2.8" stroke="#bf00bf" stroke-width="1.0"/>
<path d="M331.71,113.04 v2.8" stroke="#bf00bf" stroke-width="1.0"/>
<path d="M333.33,115.91 v2.8" stroke="#bf00bf" stroke-width="1.0"/>
<path d="M335.39,118.49 v2.8" stroke="#bf00bf" stroke-width="1.0"/>
<path d="M337.95,120.56 v2.8" stroke="#bf00bf" stroke-width="1.0"/>
<path d="M340.82,122.18 v2.8" stroke="#bf00bf" stroke-width="1.0"/>
<path d="M343.83,123.52 v2.8" stroke="#bf00bf" stroke-width="1.0"/>
<path d="M346.93,124.66 v2.8" stroke="#bf00bf" stroke-width="1.0"/>
<path d="M350.12,125.48 v2.8" stroke="#bf00bf" stroke-width="1.0"/>
<path d="M353.38,126.05 v2.8" stroke="#bf00bf" stroke-width="1.0"/>
<path d="M356.64,126.51 v2.8" stroke="#bf00bf" stroke-width="1.0"/>
<path d="M359.92,126.93 v2.8" stroke="#bf00bf" stroke-width="1.0"/>
<path d="M363.20,127.23 v2.8" stroke="#bf00bf" stroke-width="1.0"/>
<path d="M366.50,127.43 v2.8" stroke="#bf00bf" stroke-width="1.0"/>
<path d="M369.79,127.57 v2.8" stroke="#bf00bf" stroke-width="1.0"/>
<path d="M373.09,127.68 v2.8" stroke="#bf00bf" stroke-width="1.0"/>
<path d="M376.39,127.77 v2.8" stroke="#bf00bf" stroke-width="1.0"/>
<path d="M379.69,127.85 v2.8" stroke="#bf00bf" stroke-width="1.0"/>
<path d="M382.99,127.91 v2.8" stroke="#bf00bf" stroke-width="1.0"/>
<path d="M386.29,127.98 v2.8" stroke="#bf00bf" stroke-width="1.0"/>
<path d="M389.59,128.04 v2.8" stroke="#bf00bf" stroke-width="1.0"/>
<path d="M392.89,128.10 v2.8" stroke="#bf00bf" stroke-width="1.0"/>
<path d="M396.19,128.15 v2.8" stroke="#bf00bf" stroke-width="1.0"/>
<path d="M399.49,128.21 v2.8" stroke="#bf00bf" stroke-width="1.0"/>
<path d="M402.79,128.27 v2.8" stroke="#bf00bf" stroke-width="1.0"/>
<path d="M325.00,82.50 C325.20,84.28 325.80,89.75 326.20,93.20 C326.60,96.65 326.95,99.87 327.40,103.20 C327.85,106.53 327.73,109.95 328.90,113.20 C330.07,116.45 331.82,120.20 334.40,122.70 C336.98,125.20 340.90,126.90 344.40,128.20 C347.90,129.50 351.23,129.93 355.40,130.50 C359.57,131.07 361.40,131.30 369.40,131.60 C377.40,131.90 397.73,132.18 403.40,132.30" fill="none" stroke="#bf00bf" stroke-width="1.0"/>
<path d="M326.10,90.94 v2.8" stroke="#bf00bf" stroke-width="1.0"/>
<path d="M327.26,100.77 v2.8" stroke="#bf00bf" stroke-width="1.0"/>
<path d="M328.52,110.58 v2.8" stroke="#bf00bf" stroke-width="1.0"/>
<path d="M329.63,113.69 v2.8" stroke="#bf00bf" stroke-width="1.0"/>
<path d="M331.03,116.67 v2.8" stroke="#bf00bf" stroke-width="1.0"/>
<path d="M332.79,119.46 v2.8" stroke="#bf00bf" stroke-width="1.0"/>
<path d="M335.03,121.87 v2.8" stroke="#bf00bf" stroke-width="1.0"/>
<path d="M337.73,123.77 v2.8" stroke="#bf00bf" stroke-width="1.0"/>
<path d="M340.66,125.28 v2.8" stroke="#bf00bf" stroke-width="1.0"/>
<path d="M343.71,126.54 v2.8" stroke="#bf00bf" stroke-width="1.0"/>
<path d="M346.84,127.58 v2.8" stroke="#bf00bf" stroke-width="1.0"/>
<path d="M350.06,128.30 v2.8" stroke="#bf00bf" stroke-width="1.0"/>
<path d="M353.32,128.81 v2.8" stroke="#bf00bf" stroke-width="1.0"/>
<path d="M356.59,129.26 v2.8" stroke="#bf00bf" stroke-width="1.0"/>
<path d="M359.86,129.65 v2.8" stroke="#bf00bf" stroke-width="1.0"/>
<path d="M363.15,129.91 v2.8" stroke="#bf00bf" stroke-width="1.0"/>
<path d="M366.45,130.08 v2.8" stroke="#bf00bf" stroke-width="1.0"/>
<path d="M369.75,130.21 v2.8" stroke="#bf00bf" stroke-width="1.0"/>
<path d="M373.05,130.31 v2.8" stroke="#bf00bf" stroke-width="1.0"/>
<path d="M376.34,130.40 v2.8" stroke="#bf00bf" stroke-width="1.0"/>
<path d="M379.64,130.47 v2.8" stroke="#bf00bf" stroke-width="1.0"/>
<path d="M382.94,130.54 v2.8" stroke="#bf00bf" stroke-width="1.0"/>
<path d="M386.24,130.60 v2.8" stroke="#bf00bf" stroke-width="1.0"/>
<path d="M389.54,130.66 v2.8" stroke="#bf00bf" stroke-width="1.0"/>
<path d="M392.84,130.72 v2.8" stroke="#bf00bf" stroke-width="1.0"/>
<path d="M396.14,130.77 v2.8" stroke="#bf00bf" stroke-width="1.0"/>
<path d="M399.44,130.83 v2.8" stroke="#bf00bf" stroke-width="1.0"/>
<path d="M402.74,130.89 v2.8" stroke="#bf00bf" stroke-width="1.0"/>
<path d="M326.80,82.00 C326.85,83.77 326.88,89.00 327.10,92.60 C327.32,96.20 327.68,100.18 328.10,103.60 C328.52,107.02 328.52,109.85 329.60,113.10 C330.68,116.35 331.93,120.72 334.60,123.10 C337.27,125.48 341.93,126.42 345.60,127.40 C349.27,128.38 352.43,128.60 356.60,129.00 C360.77,129.40 362.52,129.55 370.60,129.80 C378.68,130.05 399.35,130.38 405.10,130.50" fill="none" stroke="#bfbf00" stroke-width="1.0"/>
<circle cx="327.06" cy="91.90" r="1.6" fill="#bfbf00"/>
<circle cx="327.89" cy="101.76" r="1.6" fill="#bfbf00"/>
<circle cx="329.16" cy="111.57" r="1.6" fill="#bfbf00"/>
<circle cx="330.13" cy="114.72" r="1.6" fill="#bfbf00"/>
<circle cx="331.25" cy="117.83" r="1.6" fill="#bfbf00"/>
<circle cx="332.72" cy="120.78" r="1.6" fill="#bfbf00"/>
<circle cx="334.83" cy="123.30" r="1.6" fill="#bfbf00"/>
<circle cx="337.65" cy="124.98" r="1.6" fill="#bfbf00"/>
<circle cx="340.76" cy="126.10" r="1.6" fill="#bfbf00"/>
<circle cx="343.94" cy="126.97" r="1.6" fill="#bfbf00"/>
<circle cx="347.14" cy="127.78" r="1.6" fill="#bfbf00"/>
<circle cx="350.39" cy="128.35" r="1.6" fill="#bfbf00"/>
<circle cx="353.67" cy="128.72" r="1.6" fill="#bfbf00"/>
<circle cx="356.95" cy="129.03" r="1.6" fill="#bfbf00"/>
<circle cx="360.24" cy="129.33" r="1.6" fill="#bfbf00"/>
<circle cx="363.53" cy="129.53" r="1.6" fill="#bfbf00"/>
<circle cx="366.83" cy="129.67" r="1.6" fill="#bfbf00"/>
<circle cx="370.13" cy="129.79" r="1.6" fill="#bfbf00"/>
<circle cx="373.43" cy="129.88" r="1.6" fill="#bfbf00"/>
<circle cx="376.72" cy="129.96" r="1.6" fill="#bfbf00"/>
<circle cx="380.02" cy="130.03" r="1.6" fill="#bfbf00"/>
<circle cx="383.32" cy="130.10" r="1.6" fill="#bfbf00"/>
<circle cx="386.62" cy="130.16" r="1.6" fill="#bfbf00"/>
<circle cx="389.92" cy="130.22" r="1.6" fill="#bfbf00"/>
<circle cx="393.22" cy="130.28" r="1.6" fill="#bfbf00"/>
<circle cx="396.52" cy="130.34" r="1.6" fill="#bfbf00"/>
<circle cx="399.82" cy="130.40" r="1.6" fill="#bfbf00"/>
<circle cx="403.12" cy="130.46" r="1.6" fill="#bfbf00"/>
<path d="M325.00,82.50 C325.15,84.62 325.58,91.25 325.90,95.20 C326.22,99.15 326.48,102.78 326.90,106.20 C327.32,109.62 327.32,112.45 328.40,115.70 C329.48,118.95 330.73,123.32 333.40,125.70 C336.07,128.08 340.73,129.02 344.40,130.00 C348.07,130.98 351.23,131.20 355.40,131.60 C359.57,132.00 361.32,132.15 369.40,132.40 C377.48,132.65 398.15,132.98 403.90,133.10" fill="none" stroke="#bfbf00" stroke-width="1.0"/>
<circle cx="325.69" cy="92.38" r="1.6" fill="#bfbf00"/>
<circle cx="326.48" cy="102.24" r="1.6" fill="#bfbf00"/>
<circle cx="327.55" cy="112.09" r="1.6" fill="#bfbf00"/>
<circle cx="329.31" cy="118.43" r="1.6" fill="#bfbf00"/>
<circle cx="330.52" cy="121.50" r="1.6" fill="#bfbf00"/>
<circle cx="332.17" cy="124.35" r="1.6" fill="#bfbf00"/>
<circle cx="334.58" cy="126.59" r="1.6" fill="#bfbf00"/>
<circle cx="337.54" cy="128.02" r="1.6" fill="#bfbf00"/>
<circle cx="340.68" cy="129.03" r="1.6" fill="#bfbf00"/>
<circle cx="343.88" cy="129.86" r="1.6" fill="#bfbf00"/>
<circle cx="347.09" cy="130.61" r="1.6" fill="#bfbf00"/>
<circle cx="350.35" cy="131.10" r="1.6" fill="#bfbf00"/>
<circle cx="353.64" cy="131.43" r="1.6" fill="#bfbf00"/>
<circle cx="356.92" cy="131.74" r="1.6" fill="#bfbf00"/>
<circle cx="360.21" cy="132.01" r="1.6" fill="#bfbf00"/>
<circle cx="363.50" cy="132.19" r="1.6" fill="#bfbf00"/>
<circle cx="366.80" cy="132.32" r="1.6" fill="#bfbf00"/>
<circle cx="370.10" cy="132.42" r="1.6" fill="#bfbf00"/>
<circle cx="373.40" cy="132.51" r="1.6" fill="#bfbf00"/>
<circle cx="376.70" cy="132.58" r="1.6" fill="#bfbf00"/>
<circle cx="380.00" cy="132.65" r="1.6" fill="#bfbf00"/>
<circle cx="383.30" cy="132.72" r="1.6" fill="#bfbf00"/>
<circle cx="386.60" cy="132.78" r="1.6" fill="#bfbf00"/>
<circle cx="389.90" cy="132.84" r="1.6" fill="#bfbf00"/>
<circle cx="393.20" cy="132.90" r="1.6" fill="#bfbf00"/>
<circle cx="396.49" cy="132.96" r="1.6" fill="#bfbf00"/>
<circle cx="399.79" cy="133.02" r="1.6" fill="#bfbf00"/>
<circle cx="403.09" cy="133.08" r="1.6" fill="#bfbf00"/>
<path d="M326.80,82.00 C326.85,84.10 326.88,90.83 327.10,94.60 C327.32,98.37 327.57,100.93 328.10,104.60 C328.63,108.27 329.63,113.52 330.30,116.60 C330.97,119.68 331.22,121.40 332.10,123.10 C332.98,124.80 333.35,125.63 335.60,126.80 C337.85,127.97 342.10,129.35 345.60,130.10 C349.10,130.85 352.43,131.00 356.60,131.30 C360.77,131.60 362.52,131.75 370.60,131.90 C378.68,132.05 399.35,132.15 405.10,132.20" fill="none" stroke="#a52a2a" stroke-width="1.0"/>
<rect x="325.39" y="90.30" width="3.2" height="3.2" fill="#a52a2a"/>
<rect x="326.12" y="100.17" width="3.2" height="3.2" fill="#a52a2a"/>
<rect x="327.69" y="109.94" width="3.2" height="3.2" fill="#a52a2a"/>
<rect x="329.75" y="119.62" width="3.2" height="3.2" fill="#a52a2a"/>
<rect x="331.10" y="122.62" width="3.2" height="3.2" fill="#a52a2a"/>
<rect x="333.43" y="124.89" width="3.2" height="3.2" fill="#a52a2a"/>
<rect x="336.43" y="126.26" width="3.2" height="3.2" fill="#a52a2a"/>
<rect x="339.55" y="127.33" width="3.2" height="3.2" fill="#a52a2a"/>
<rect x="342.73" y="128.21" width="3.2" height="3.2" fill="#a52a2a"/>
<rect x="345.97" y="128.86" width="3.2" height="3.2" fill="#a52a2a"/>
<rect x="349.24" y="129.27" width="3.2" height="3.2" fill="#a52a2a"/>
<rect x="352.53" y="129.53" width="3.2" height="3.2" fill="#a52a2a"/>
<rect x="355.82" y="129.76" width="3.2" height="3.2" fill="#a52a2a"/>
<rect x="359.12" y="129.98" width="3.2" height="3.2" fill="#a52a2a"/>
<rect x="362.41" y="130.13" width="3.2" height="3.2" fill="#a52a2a"/>
<rect x="365.71" y="130.23" width="3.2" height="3.2" fill="#a52a2a"/>
<rect x="369.01" y="130.30" width="3.2" height="3.2" fill="#a52a2a"/>
<rect x="372.31" y="130.35" width="3.2" height="3.2" fill="#a52a2a"/>
<rect x="375.61" y="130.39" width="3.2" height="3.2" fill="#a52a2a"/>
<rect x="378.91" y="130.42" width="3.2" height="3.2" fill="#a52a2a"/>
<rect x="382.21" y="130.45" width="3.2" height="3.2" fill="#a52a2a"/>
<rect x="385.51" y="130.48" width="3.2" height="3.2" fill="#a52a2a"/>
<rect x="388.81" y="130.50" width="3.2" height="3.2" fill="#a52a2a"/>
<rect x="392.11" y="130.52" width="3.2" height="3.2" fill="#a52a2a"/>
<rect x="395.41" y="130.54" width="3.2" height="3.2" fill="#a52a2a"/>
<rect x="398.71" y="130.57" width="3.2" height="3.2" fill="#a52a2a"/>
<rect x="402.01" y="130.59" width="3.2" height="3.2" fill="#a52a2a"/>
<path d="M325.00,82.50 C325.15,84.95 325.58,93.08 325.90,97.20 C326.22,101.32 326.37,103.53 326.90,107.20 C327.43,110.87 328.43,116.12 329.10,119.20 C329.77,122.28 330.02,124.00 330.90,125.70 C331.78,127.40 332.15,128.23 334.40,129.40 C336.65,130.57 340.90,131.95 344.40,132.70 C347.90,133.45 351.23,133.60 355.40,133.90 C359.57,134.20 361.32,134.35 369.40,134.50 C377.48,134.65 398.15,134.75 403.90,134.80" fill="none" stroke="#a52a2a" stroke-width="1.0"/>
<rect x="323.98" y="90.78" width="3.2" height="3.2" fill="#a52a2a"/>
<rect x="324.71" y="100.66" width="3.2" height="3.2" fill="#a52a2a"/>
<rect x="326.10" y="110.45" width="3.2" height="3.2" fill="#a52a2a"/>
<rect x="328.04" y="120.16" width="3.2" height="3.2" fill="#a52a2a"/>
<rect x="330.57" y="126.19" width="3.2" height="3.2" fill="#a52a2a"/>
<rect x="333.28" y="128.04" width="3.2" height="3.2" fill="#a52a2a"/>
<rect x="336.34" y="129.27" width="3.2" height="3.2" fill="#a52a2a"/>
<rect x="339.48" y="130.27" width="3.2" height="3.2" fill="#a52a2a"/>
<rect x="342.68" y="131.07" width="3.2" height="3.2" fill="#a52a2a"/>
<rect x="345.93" y="131.63" width="3.2" height="3.2" fill="#a52a2a"/>
<rect x="349.22" y="131.97" width="3.2" height="3.2" fill="#a52a2a"/>
<rect x="352.51" y="132.21" width="3.2" height="3.2" fill="#a52a2a"/>
<rect x="355.80" y="132.44" width="3.2" height="3.2" fill="#a52a2a"/>
<rect x="359.09" y="132.64" width="3.2" height="3.2" fill="#a52a2a"/>
<rect x="362.39" y="132.77" width="3.2" height="3.2" fill="#a52a2a"/>
<rect x="365.69" y="132.86" width="3.2" height="3.2" fill="#a52a2a"/>
<rect x="368.99" y="132.92" width="3.2" height="3.2" fill="#a52a2a"/>
<rect x="372.29" y="132.97" width="3.2" height="3.2" fill="#a52a2a"/>
<rect x="375.59" y="133.00" width="3.2" height="3.2" fill="#a52a2a"/>
<rect x="378.89" y="133.03" width="3.2" height="3.2" fill="#a52a2a"/>
<rect x="382.19" y="133.06" width="3.2" height="3.2" fill="#a52a2a"/>
<rect x="385.49" y="133.08" width="3.2" height="3.2" fill="#a52a2a"/>
<rect x="388.79" y="133.11" width="3.2" height="3.2" fill="#a52a2a"/>
<rect x="392.09" y="133.13" width="3.2" height="3.2" fill="#a52a2a"/>
<rect x="395.39" y="133.15" width="3.2" height="3.2" fill="#a52a2a"/>
<rect x="398.69" y="133.17" width="3.2" height="3.2" fill="#a52a2a"/>
<rect x="401.99" y="133.20" width="3.2" height="3.2" fill="#a52a2a"/>
<path d="M326.80,82.00 C326.82,84.43 326.72,92.17 326.90,96.60 C327.08,101.03 327.37,104.93 327.90,108.60 C328.43,112.27 329.23,115.62 330.10,118.60 C330.97,121.58 331.95,124.80 333.10,126.50 C334.25,128.20 335.70,128.20 337.00,128.80 C338.30,129.40 339.72,129.72 340.90,130.10 C342.08,130.48 342.95,130.85 344.10,131.10 C345.25,131.35 345.72,131.43 347.80,131.60 C349.88,131.77 347.05,131.90 356.60,132.10 C366.15,132.30 397.02,132.68 405.10,132.80" fill="none" stroke="#000" stroke-width="1.0"/>
<circle cx="326.80" cy="91.90" r="0.9" fill="#000000"/>
<circle cx="327.19" cy="101.79" r="0.9" fill="#000000"/>
<circle cx="328.41" cy="111.61" r="0.9" fill="#000000"/>
<circle cx="330.88" cy="121.19" r="0.9" fill="#000000"/>
<circle cx="331.98" cy="124.30" r="0.9" fill="#000000"/>
<circle cx="333.62" cy="127.14" r="0.9" fill="#000000"/>
<circle cx="336.53" cy="128.61" r="0.9" fill="#000000"/>
<circle cx="339.64" cy="129.72" r="0.9" fill="#000000"/>
<circle cx="342.78" cy="130.74" r="0.9" fill="#000000"/>
<circle cx="346.00" cy="131.43" r="0.9" fill="#000000"/>
<circle cx="349.27" cy="131.82" r="0.9" fill="#000000"/>
<circle cx="352.57" cy="132.00" r="0.9" fill="#000000"/>
<circle cx="355.86" cy="132.08" r="0.9" fill="#000000"/>
<circle cx="359.16" cy="132.15" r="0.9" fill="#000000"/>
<circle cx="362.46" cy="132.21" r="0.9" fill="#000000"/>
<circle cx="365.76" cy="132.26" r="0.9" fill="#000000"/>
<circle cx="369.06" cy="132.31" r="0.9" fill="#000000"/>
<circle cx="372.36" cy="132.36" r="0.9" fill="#000000"/>
<circle cx="375.66" cy="132.40" r="0.9" fill="#000000"/>
<circle cx="378.96" cy="132.45" r="0.9" fill="#000000"/>
<circle cx="382.26" cy="132.49" r="0.9" fill="#000000"/>
<circle cx="385.56" cy="132.54" r="0.9" fill="#000000"/>
<circle cx="388.86" cy="132.58" r="0.9" fill="#000000"/>
<circle cx="392.16" cy="132.63" r="0.9" fill="#000000"/>
<circle cx="395.46" cy="132.67" r="0.9" fill="#000000"/>
<circle cx="398.76" cy="132.71" r="0.9" fill="#000000"/>
<circle cx="402.06" cy="132.76" r="0.9" fill="#000000"/>
<path d="M325.00,82.50 C325.12,85.28 325.42,94.42 325.70,99.20 C325.98,103.98 326.17,107.53 326.70,111.20 C327.23,114.87 328.03,118.22 328.90,121.20 C329.77,124.18 330.75,127.40 331.90,129.10 C333.05,130.80 334.50,130.80 335.80,131.40 C337.10,132.00 338.52,132.32 339.70,132.70 C340.88,133.08 341.75,133.45 342.90,133.70 C344.05,133.95 344.52,134.03 346.60,134.20 C348.68,134.37 345.85,134.50 355.40,134.70 C364.95,134.90 395.82,135.28 403.90,135.40" fill="none" stroke="#000" stroke-width="1.0"/>
<circle cx="325.38" cy="92.39" r="0.9" fill="#000000"/>
<circle cx="325.88" cy="102.28" r="0.9" fill="#000000"/>
<circle cx="326.84" cy="112.13" r="0.9" fill="#000000"/>
<circle cx="329.07" cy="121.77" r="0.9" fill="#000000"/>
<circle cx="330.05" cy="124.92" r="0.9" fill="#000000"/>
<circle cx="331.27" cy="127.98" r="0.9" fill="#000000"/>
<circle cx="333.36" cy="130.45" r="0.9" fill="#000000"/>
<circle cx="336.43" cy="131.67" r="0.9" fill="#000000"/>
<circle cx="339.58" cy="132.66" r="0.9" fill="#000000"/>
<circle cx="342.72" cy="133.66" r="0.9" fill="#000000"/>
<circle cx="345.98" cy="134.15" r="0.9" fill="#000000"/>
<circle cx="349.26" cy="134.51" r="0.9" fill="#000000"/>
<circle cx="352.55" cy="134.63" r="0.9" fill="#000000"/>
<circle cx="355.85" cy="134.71" r="0.9" fill="#000000"/>
<circle cx="359.15" cy="134.77" r="0.9" fill="#000000"/>
<circle cx="362.45" cy="134.82" r="0.9" fill="#000000"/>
<circle cx="365.75" cy="134.88" r="0.9" fill="#000000"/>
<circle cx="369.05" cy="134.92" r="0.9" fill="#000000"/>
<circle cx="372.35" cy="134.97" r="0.9" fill="#000000"/>
<circle cx="375.65" cy="135.02" r="0.9" fill="#000000"/>
<circle cx="378.95" cy="135.06" r="0.9" fill="#000000"/>
<circle cx="382.25" cy="135.11" r="0.9" fill="#000000"/>
<circle cx="385.55" cy="135.15" r="0.9" fill="#000000"/>
<circle cx="388.85" cy="135.20" r="0.9" fill="#000000"/>
<circle cx="392.15" cy="135.24" r="0.9" fill="#000000"/>
<circle cx="395.45" cy="135.29" r="0.9" fill="#000000"/>
<circle cx="398.75" cy="135.33" r="0.9" fill="#000000"/>
<circle cx="402.05" cy="135.37" r="0.9" fill="#000000"/>
<rect x="359.2" y="28.3" width="35.00" height="67.30" fill="#fff" stroke="#d0d0d0" stroke-width="0.6"/>
<line x1="361.2" y1="33.2" x2="372.8" y2="33.2" stroke="#ff0000" stroke-width="0.9"/>
<circle cx="367.0" cy="33.2" r="2.1" fill="#ff0000"/>
<text transform="translate(377.0,35.00) scale(1.28,1)" font-family="Liberation Sans, sans-serif" font-size="5.0" fill="#111" stroke="#111" stroke-width="0.14">L=<tspan>8</tspan></text>
<line x1="361.2" y1="41.2" x2="372.8" y2="41.2" stroke="#008000" stroke-width="0.9"/>
<path d="M365.8,40.400000000000006 h2.4 l-1.2,2z" fill="#008000"/>
<text transform="translate(377.0,43.00) scale(1.28,1)" font-family="Liberation Sans, sans-serif" font-size="5.0" fill="#111" stroke="#111" stroke-width="0.14">L=<tspan>10</tspan></text>
<line x1="361.2" y1="49.3" x2="372.8" y2="49.3" stroke="#0000ff" stroke-width="0.9"/>
<path d="M365.8,50.099999999999994 h2.4 l-1.2,-2z" fill="#0000ff"/>
<text transform="translate(377.0,51.10) scale(1.28,1)" font-family="Liberation Sans, sans-serif" font-size="5.0" fill="#111" stroke="#111" stroke-width="0.14">L=<tspan>12</tspan></text>
<line x1="361.2" y1="57.3" x2="372.8" y2="57.3" stroke="#00bfbf" stroke-width="0.9"/>
<path d="M367.0,55.8 v3" stroke="#00bfbf" stroke-width="0.8"/>
<text transform="translate(377.0,59.10) scale(1.28,1)" font-family="Liberation Sans, sans-serif" font-size="5.0" fill="#111" stroke="#111" stroke-width="0.14">L=<tspan>14</tspan></text>
<line x1="361.2" y1="65.4" x2="372.8" y2="65.4" stroke="#bf00bf" stroke-width="0.9"/>
<path d="M367.0,63.900000000000006 v3" stroke="#bf00bf" stroke-width="0.9"/>
<text transform="translate(377.0,67.20) scale(1.28,1)" font-family="Liberation Sans, sans-serif" font-size="5.0" fill="#111" stroke="#111" stroke-width="0.14">L=<tspan>16</tspan></text>
<line x1="361.2" y1="73.5" x2="372.8" y2="73.5" stroke="#bfbf00" stroke-width="0.9"/>
<circle cx="367.0" cy="73.5" r="1.8" fill="#bfbf00"/>
<text transform="translate(377.0,75.30) scale(1.28,1)" font-family="Liberation Sans, sans-serif" font-size="5.0" fill="#111" stroke="#111" stroke-width="0.14">L=<tspan>20</tspan></text>
<line x1="361.2" y1="81.7" x2="372.8" y2="81.7" stroke="#a52a2a" stroke-width="0.9"/>
<rect x="365.3" y="80.0" width="3.4" height="3.4" fill="#a52a2a"/>
<text transform="translate(377.0,83.50) scale(1.28,1)" font-family="Liberation Sans, sans-serif" font-size="5.0" fill="#111" stroke="#111" stroke-width="0.14">L=<tspan>24</tspan></text>
<line x1="361.2" y1="89.6" x2="372.8" y2="89.6" stroke="#000000" stroke-width="0.9"/>
<circle cx="367.0" cy="89.6" r="1.1" fill="#000000"/>
<text transform="translate(377.0,91.40) scale(1.28,1)" font-family="Liberation Sans, sans-serif" font-size="5.0" fill="#111" stroke="#111" stroke-width="0.14">L=<tspan>28</tspan></text>
<clipPath id="cc"><rect x="34.6" y="160" width="158.40" height="150"/></clipPath>
<g clip-path="url(#cc)">
<line x1="36.6" y1="257.0" x2="193.0" y2="180.0" stroke="#ff7f0e" stroke-width="2.0" stroke-linecap="round"/>
<circle cx="80.4" cy="236.14" r="2.3" fill="#ff7f0e"/>
<circle cx="101.3" cy="226.25" r="2.3" fill="#ff7f0e"/>
<circle cx="116.3" cy="218.36" r="2.3" fill="#ff7f0e"/>
<circle cx="130.1" cy="209.97" r="2.3" fill="#ff7f0e"/>
<circle cx="142.4" cy="205.01" r="2.3" fill="#ff7f0e"/>
<circle cx="153.8" cy="200.00" r="2.3" fill="#ff7f0e"/>
<circle cx="162.6" cy="195.17" r="2.3" fill="#ff7f0e"/>
<circle cx="172" cy="190.84" r="2.3" fill="#ff7f0e"/>
<circle cx="179.6" cy="186.00" r="2.3" fill="#ff7f0e"/>
<circle cx="187" cy="184.15" r="2.3" fill="#ff7f0e"/>
<circle cx="192.5" cy="179.65" r="2.3" fill="#ff7f0e"/>
<line x1="36.6" y1="271.2" x2="193.0" y2="194.0" stroke="#1f77b4" stroke-width="2.0" stroke-linecap="round"/>
<circle cx="80.4" cy="250.78" r="2.3" fill="#1f77b4"/>
<circle cx="101.3" cy="240.96" r="2.3" fill="#1f77b4"/>
<circle cx="116.3" cy="232.56" r="2.3" fill="#1f77b4"/>
<circle cx="130.1" cy="224.65" r="2.3" fill="#1f77b4"/>
<circle cx="142.4" cy="219.98" r="2.3" fill="#1f77b4"/>
<circle cx="153.8" cy="214.95" r="2.3" fill="#1f77b4"/>
<circle cx="162.6" cy="210.01" r="2.3" fill="#1f77b4"/>
<circle cx="172" cy="205.07" r="2.3" fill="#1f77b4"/>
<circle cx="179.6" cy="200.71" r="2.3" fill="#1f77b4"/>
<circle cx="187" cy="198.46" r="2.3" fill="#1f77b4"/>
<circle cx="192.5" cy="193.75" r="2.3" fill="#1f77b4"/>
<line x1="36.6" y1="298.8" x2="193.0" y2="226.0" stroke="#2ca02c" stroke-width="2.0" stroke-linecap="round"/>
<circle cx="80.4" cy="276.61" r="2.3" fill="#2ca02c"/>
<circle cx="101.3" cy="268.78" r="2.3" fill="#2ca02c"/>
<circle cx="116.3" cy="264.30" r="2.3" fill="#2ca02c"/>
<circle cx="130.1" cy="256.18" r="2.3" fill="#2ca02c"/>
<circle cx="142.4" cy="249.05" r="2.3" fill="#2ca02c"/>
<circle cx="153.8" cy="244.75" r="2.3" fill="#2ca02c"/>
<circle cx="162.6" cy="239.35" r="2.3" fill="#2ca02c"/>
<circle cx="172" cy="236.17" r="2.3" fill="#2ca02c"/>
<circle cx="179.6" cy="231.04" r="2.3" fill="#2ca02c"/>
<circle cx="187" cy="226.79" r="2.3" fill="#2ca02c"/>
<circle cx="192.5" cy="226.23" r="2.3" fill="#2ca02c"/>
</g>
<rect x="61.3" y="173.4" width="38.3" height="30.3" rx="1" fill="#fff" stroke="#d0d0d0" stroke-width="0.5"/>
<line x1="63.6" y1="179.1" x2="75.4" y2="179.1" stroke="#1f77b4" stroke-width="1.0"/>
<text x="79.3" y="181.30" font-family="Liberation Sans, sans-serif" font-size="6.4" fill="#111" stroke="#111" stroke-width="0.15"><tspan font-style="italic">ln</tspan> |p1|</text>
<line x1="63.6" y1="188.7" x2="75.4" y2="188.7" stroke="#ff7f0e" stroke-width="1.0"/>
<text x="79.3" y="190.90" font-family="Liberation Sans, sans-serif" font-size="6.4" fill="#111" stroke="#111" stroke-width="0.15"><tspan font-style="italic">ln</tspan> p1<tspan dy="-2.4" font-size="4.6">2</tspan></text>
<line x1="63.6" y1="197.6" x2="75.4" y2="197.6" stroke="#2ca02c" stroke-width="1.0"/>
<text x="79.3" y="199.80" font-family="Liberation Sans, sans-serif" font-size="6.4" fill="#111" stroke="#111" stroke-width="0.15">U</text>
<line x1="249.8" y1="204.0" x2="405.8" y2="242.7" stroke="#1f77b4" stroke-width="2.0"/>
<circle cx="301.2" cy="216.25" r="2.3" fill="#1f77b4"/>
<circle cx="308.1" cy="219.36" r="2.3" fill="#1f77b4"/>
<circle cx="316.5" cy="220.15" r="2.3" fill="#1f77b4"/>
<circle cx="326.1" cy="221.73" r="2.3" fill="#1f77b4"/>
<line x1="249.8" y1="205.0" x2="405.8" y2="253.6" stroke="#ff7f0e" stroke-width="2.0"/>
<circle cx="301.2" cy="220.11" r="2.3" fill="#ff7f0e"/>
<circle cx="308.1" cy="224.26" r="2.3" fill="#ff7f0e"/>
<circle cx="316.5" cy="225.88" r="2.3" fill="#ff7f0e"/>
<circle cx="326.1" cy="226.47" r="2.3" fill="#ff7f0e"/>
<line x1="249.8" y1="205.6" x2="405.8" y2="295.0" stroke="#2ca02c" stroke-width="2.0"/>
<circle cx="301.2" cy="237.56" r="2.3" fill="#2ca02c"/>
<circle cx="308.1" cy="238.81" r="2.3" fill="#2ca02c"/>
<circle cx="316.5" cy="244.62" r="2.3" fill="#2ca02c"/>
<circle cx="326.1" cy="250.33" r="2.3" fill="#2ca02c"/>
<rect x="366.0" y="171.0" width="38.7" height="29.7" rx="1" fill="#fff" stroke="#d0d0d0" stroke-width="0.5"/>
<line x1="368.0" y1="176.5" x2="380.0" y2="176.5" stroke="#1f77b4" stroke-width="1.0"/>
<text x="383.8" y="178.70" font-family="Liberation Sans, sans-serif" font-size="6.4" fill="#111" stroke="#111" stroke-width="0.15"><tspan font-style="italic">ln</tspan> |p1|</text>
<line x1="368.0" y1="186.3" x2="380.0" y2="186.3" stroke="#ff7f0e" stroke-width="1.0"/>
<text x="383.8" y="188.50" font-family="Liberation Sans, sans-serif" font-size="6.4" fill="#111" stroke="#111" stroke-width="0.15"><tspan font-style="italic">ln</tspan> p1<tspan dy="-2.4" font-size="4.6">2</tspan></text>
<line x1="368.0" y1="194.8" x2="380.0" y2="194.8" stroke="#2ca02c" stroke-width="1.0"/>
<text x="383.8" y="197.00" font-family="Liberation Sans, sans-serif" font-size="6.4" fill="#111" stroke="#111" stroke-width="0.15">U</text>
</g>
</svg>
</body></html>
